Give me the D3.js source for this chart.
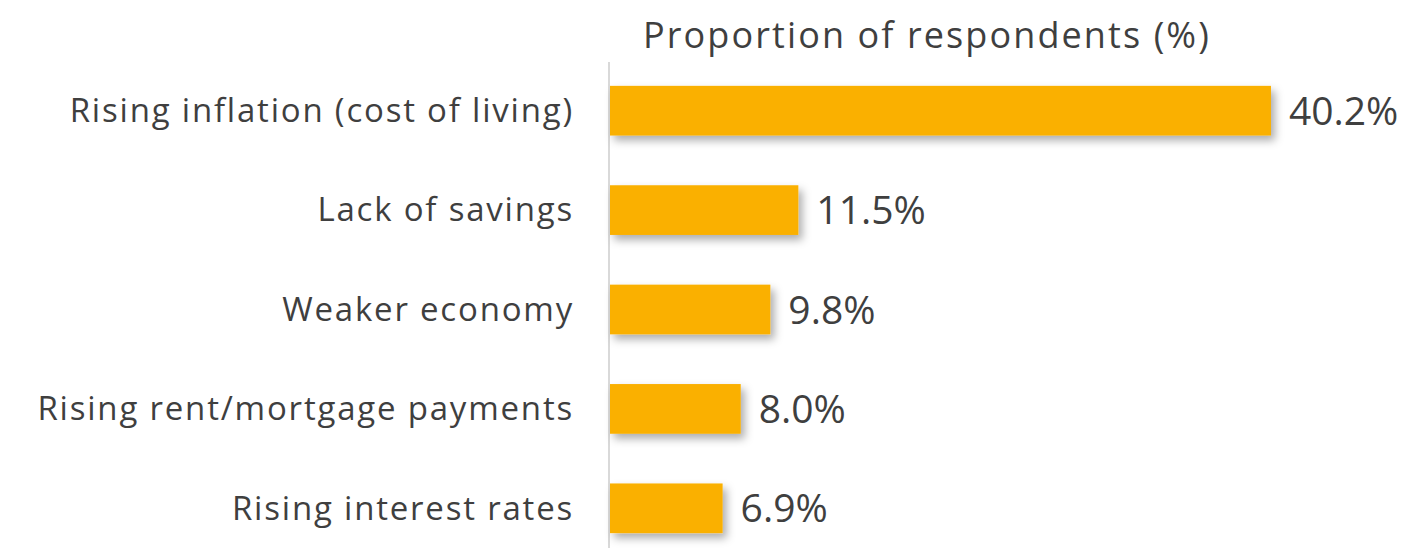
<!DOCTYPE html>
<html>
<head>
<meta charset="utf-8">
<script src="https://cdn.jsdelivr.net/npm/d3@7"></script>
<style>
  html, body { margin: 0; padding: 0; background: #fff; }
  svg { display: block; }
  text { font-family: "Open Sans", Lato, sans-serif; fill: #3f3f3f; }
</style>
</head>
<body>
<svg id="chart" width="1411" height="548"></svg>
<script>
// Reasons given, top to bottom, and share of respondents (%)
const categories = [
  "Rising inflation (cost of living)",
  "Lack of savings",
  "Weaker economy",
  "Rising rent/mortgage payments",
  "Rising interest rates"
];
const values = [40.2, 11.5, 9.8, 8.0, 6.9];
const valueLabels = ["40.2%", "11.5%", "9.8%", "8.0%", "6.9%"];
const axisTitle = "Proportion of respondents (%)";

const data = categories.map((c, i) => ({ category: c, value: values[i], label: valueLabels[i] }));

const svg = d3.select("#chart");

const x = d3.scaleLinear().domain([0, 45]).range([609, 1350]);
const y = d3.scaleBand()
  .domain(categories)
  .range([61, 558])
  .paddingInner(0.5)
  .paddingOuter(0.25);

// soft drop shadow under each bar
const defs = svg.append("defs");
const f = defs.append("filter").attr("id", "barShadow")
  .attr("x", "-20%").attr("y", "-40%").attr("width", "140%").attr("height", "200%");
f.append("feDropShadow")
  .attr("dx", 4).attr("dy", 5)
  .attr("stdDeviation", 4)
  .attr("flood-color", "#000")
  .attr("flood-opacity", 0.32);

// category axis
const yAxis = svg.append("g")
  .attr("transform", `translate(${x(0)},0)`)
  .call(d3.axisLeft(y).tickSize(0).tickPadding(35));
yAxis.select(".domain").attr("stroke", "#d9d9d9").attr("stroke-width", 2)
  .attr("d", `M0,62V548`);
yAxis.selectAll(".tick text")
  .attr("font-size", 33)
  .attr("font-family", "'Open Sans', sans-serif")
  .attr("letter-spacing", 1.8)
  .attr("fill", "#3f3f3f")
  .attr("dy", "0.34em");

// bars
svg.append("g").selectAll("rect")
  .data(data)
  .join("rect")
  .attr("x", x(0) + 1)
  .attr("y", d => y(d.category))
  .attr("width", d => x(d.value) - x(0) - 1)
  .attr("height", y.bandwidth())
  .attr("fill", "#FAB000")
  .attr("filter", "url(#barShadow)");

// value labels
svg.append("g").selectAll("text")
  .data(data)
  .join("text")
  .attr("x", d => x(d.value) + 18)
  .attr("y", d => y(d.category) + y.bandwidth() / 2)
  .attr("dy", "0.36em")
  .attr("font-size", 39)
  .text(d => d.label);

// axis title
svg.append("text")
  .attr("x", 643)
  .attr("y", 48)
  .attr("font-size", 36)
  .attr("letter-spacing", 2.1)
  .text(axisTitle);
</script>
</body>
</html>
